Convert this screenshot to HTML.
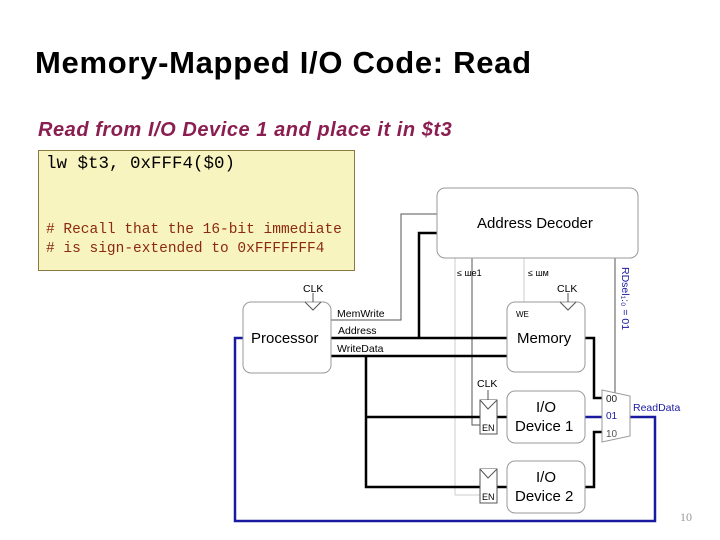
<!DOCTYPE html>
<html><head><meta charset="utf-8"><style>
html,body{margin:0;padding:0;background:#fff;}
body{width:720px;height:540px;position:relative;overflow:hidden;font-family:"Liberation Sans",sans-serif;}
.t{position:absolute;white-space:nowrap;}
</style></head><body>
<div class="t" style="left:35px;top:45px;font-size:31px;font-weight:bold;color:#000;letter-spacing:0.7px;">Memory-Mapped I/O Code: Read</div>
<div class="t" style="left:38px;top:119px;font-size:20px;font-weight:bold;font-style:italic;color:#8b1e50;letter-spacing:0.55px;">Read from I/O Device 1 and place it in $t3</div>
<div style="position:absolute;left:38px;top:150px;width:315px;height:119px;background:#f8f4c0;border:1px solid #8a7a40;"></div>
<div class="t" style="left:46px;top:154px;font-family:'Liberation Mono',monospace;font-size:17.5px;color:#000;">lw $t3, 0xFFF4($0)</div>
<div class="t" style="left:46px;top:221px;font-family:'Liberation Mono',monospace;font-size:14.5px;line-height:19px;color:#8b2a10;"># Recall that the 16-bit immediate<br># is sign-extended to 0xFFFFFFF4</div>
<svg width="720" height="540" style="position:absolute;left:0;top:0" font-family="Liberation Sans, sans-serif">
<g fill="none" stroke="#ccc" stroke-width="1">
<line x1="455" y1="258" x2="455" y2="495"/><line x1="455" y1="495" x2="480" y2="495"/>
<line x1="524" y1="258" x2="524" y2="302"/>
</g>
<g fill="none" stroke="#555" stroke-width="1">
<polyline points="331,320 401,320 401,214 437,214"/>
<polyline points="472,258 472,425 480,425"/>
<line x1="615" y1="258" x2="615" y2="393"/>
</g>
<g fill="none" stroke="#000" stroke-width="2.5">
<line x1="331" y1="338" x2="507" y2="338"/>
<polyline points="419,338 419,233 437,233"/>
<line x1="331" y1="356" x2="507" y2="356"/>
<polyline points="366,356 366,487 480,487"/>
<line x1="366" y1="417" x2="480" y2="417"/>
<line x1="497" y1="417" x2="507" y2="417"/>
<line x1="497" y1="487" x2="507" y2="487"/>
<polyline points="585,338 594,338 594,398 602,398"/>
<polyline points="585,487 594,487 594,432 602,432"/>
</g>
<g fill="none" stroke="#1a1aa0" stroke-width="2.5">
<line x1="585" y1="417" x2="602" y2="417"/>
<polyline points="630,417 655,417 655,521 235,521 235,338 243,338"/>
</g>
<g fill="#fff" stroke="#999" stroke-width="1">
<rect x="437" y="188" width="201" height="70" rx="8"/>
<rect x="243" y="302" width="88" height="71" rx="8"/>
<rect x="507" y="302" width="78" height="70" rx="8"/>
<rect x="507" y="391" width="78" height="52" rx="8"/>
<rect x="507" y="461" width="78" height="52" rx="8"/>
<polygon points="602,390 630,396 630,436 602,442"/>
</g>
<g fill="#fff" stroke="#555" stroke-width="1">
<rect x="480" y="400" width="17" height="34"/>
<rect x="480" y="469" width="17" height="34"/>
<polyline points="480,400 488,409 497,400"/>
<polyline points="480,469 488,478 497,469"/>
<polyline points="305,302 313,310 321,302" fill="none"/>
<polyline points="560,302 568,310 576,302" fill="none"/>
<line x1="313" y1="293" x2="313" y2="302"/><line x1="568" y1="293" x2="568" y2="302"/>
<line x1="488" y1="390" x2="488" y2="400"/>
</g>
<g fill="#000" font-size="15">
<text x="477" y="228">Address Decoder</text>
<text x="251" y="343">Processor</text>
<text x="517" y="343">Memory</text>
<text x="536" y="412">I/O</text><text x="515" y="431">Device 1</text>
<text x="536" y="482">I/O</text><text x="515" y="501">Device 2</text>
</g>
<g fill="#000" font-size="10.5">
<text x="303" y="292">CLK</text><text x="557" y="292">CLK</text><text x="477" y="387">CLK</text>
<text x="337" y="317">MemWrite</text><text x="338" y="334">Address</text><text x="337" y="352">WriteData</text>
<text x="516" y="317" font-size="8">WE</text>
<text x="482" y="431" font-size="9">EN</text><text x="482" y="500" font-size="9">EN</text>
<text x="457" y="276" font-size="9">≤ ше1</text><text x="528" y="276" font-size="9">≤ шм</text>
</g>
<g fill="#222" font-size="10"><text x="606" y="402">00</text><text x="606" y="437" fill="#555">10</text></g>
<text x="606" y="419" font-size="10" fill="#1a1aa0">01</text>
<text x="633" y="411" font-size="10.5" fill="#1a1aa0">ReadData</text>
<text x="0" y="0" font-size="10.5" fill="#1a1aa0" transform="translate(622,267) rotate(90)">RDsel₁:₀ = 01</text>
<text x="680" y="521" font-size="12" fill="#999" font-family="Liberation Serif, serif">10</text>
</svg>
</body></html>
